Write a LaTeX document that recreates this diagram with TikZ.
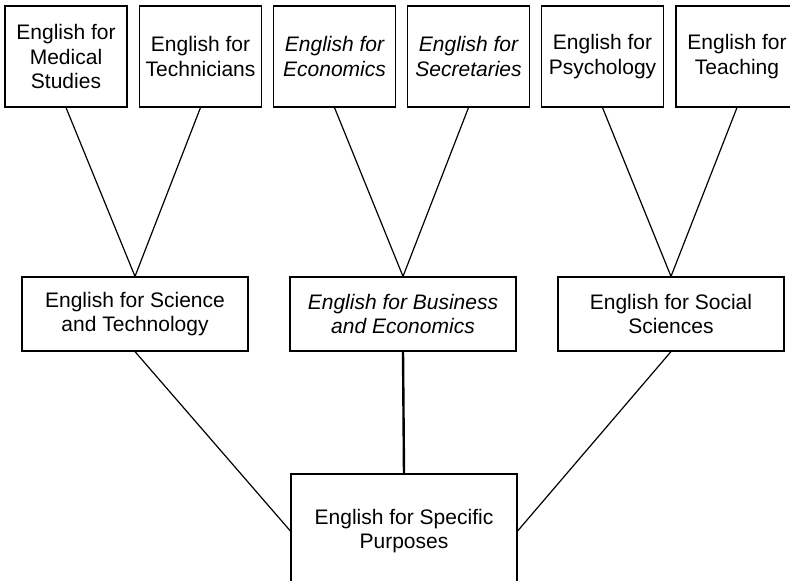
\documentclass[tikz,border=0pt]{standalone}
\usepackage{fontspec}
\setmainfont{Liberation Sans}
\begin{document}
\begin{tikzpicture}[x=1pt,y=-1pt,
    box/.style={draw,line width=1.2pt,align=center,inner sep=0pt,
      font=\fontsize{21}{24.5}\selectfont},
    topbox/.style={box,minimum width=122pt,minimum height=101pt},
    midbox/.style={box,minimum width=226pt,minimum height=74pt},
    link/.style={line width=1.2pt},
    mainlink/.style={line width=2.4pt}]
    \useasboundingbox (0,0) rectangle (790,581);
    \clip (0,0) rectangle (790,581);

    \node[topbox] (medical) at (66,56.5) {English for\\Medical\\Studies};
    \node[topbox] (tech) at (200.5,56.5) {English for\\Technicians};
    \node[topbox] (econ) at (334.5,56.5) {\itshape English for\\\itshape Economics};
    \node[topbox] (secr) at (468.5,56.5) {\itshape English for\\\itshape Secretaries};
    \node[topbox] (psych) at (602.5,56.5) {English for\\Psychology};
    \node[topbox] (teach) at (737,56.5) {English for\\Teaching};

    \node[midbox] (science) at (135,314) {English for Science\\and Technology};
    \node[midbox] (business) at (403,314) {\itshape English for Business\\\itshape and Economics};
    \node[midbox] (social) at (671,314) {English for Social\\Sciences};

    \node[box,minimum width=226pt,minimum height=114pt] (esp) at (404,531)
      {English for Specific\\Purposes};

    \draw[link] (medical.south) -- (science.north);
    \draw[link] (tech.south) -- (science.north);
    \draw[link] (econ.south) -- (business.north);
    \draw[link] (secr.south) -- (business.north);
    \draw[link] (psych.south) -- (social.north);
    \draw[link] (teach.south) -- (social.north);

    \draw[link] (science.south) -- (esp.west);
    \draw[mainlink] (business.south) -- (esp.north);
    \draw[link] (social.south) -- (esp.east);

  \end{tikzpicture}
\end{document}
